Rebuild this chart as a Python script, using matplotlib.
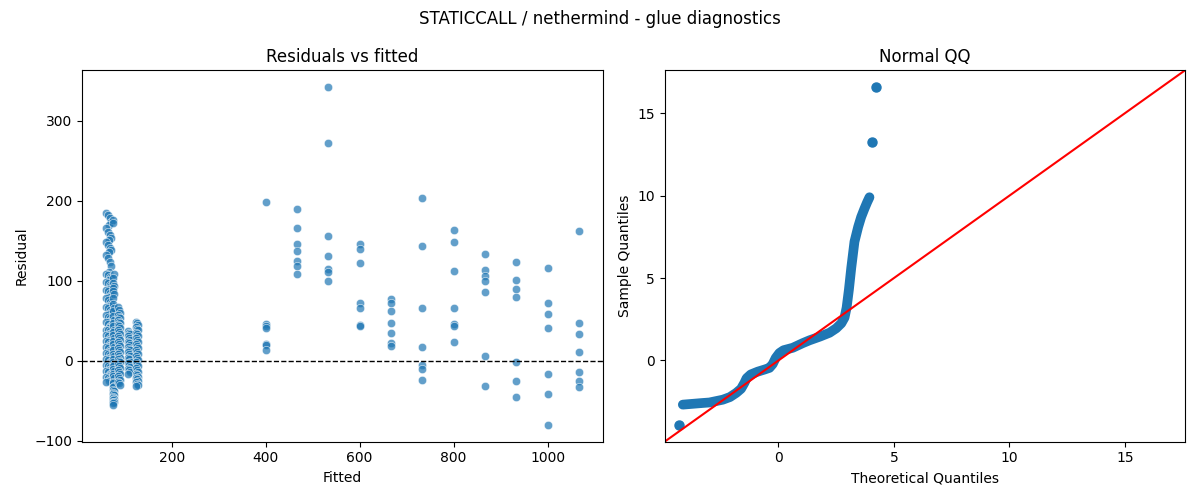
import matplotlib
matplotlib.use("Agg")
import matplotlib.pyplot as plt
import pandas as pd
import seaborn as sns

# dense low-fitted clusters (fitted, residuals)
cluster_fitted = [64, 75, 88, 109, 126]
cluster_resid = [
    [185, 182, 178, 174, 170, 166, 161, 157, 154, 151, 148, 145, 141, 138, 136,
     132, 128, 124, 118, 111, 109, 107, 105, 103, 101, 99, 97, 95, 93, 90, 88,
     87, 85, 82, 80, 78, 76, 74, 71, 69, 67, 66, 63, 61, 59, 57, 55, 53, 51, 49,
     48, 46, 44, 43, 41, 39, 38, 37, 35, 33, 32, 31, 29, 27, 26, 25, 23, 21, 20,
     18, 17, 16, 14, 12, 11, 10, 8, 7, 5, 4, 2, 1, -1, -2, -4, -5, -7, -8, -10,
     -11, -13, -14, -16, -17, -19, -20, -22, -23, -24, -25, -26],
    [176, 172, 108, 103, 97, 94, 91, 87, 84, 78, 71, 66, 62, 56, 51, 47, 43, 39,
     36, 32, 29, 25, 21, 17, 13, 9, 6, 2, -1, -4, -7, -10, -13, -16, -19, -22,
     -26, -28, -31, -33, -36, -38, -40, -42, -43, -45, -46, -48, -49, -51, -52,
     -53, -55],
    [67, 63, 60, 57, 55, 53, 51, 49, 47, 45, 43, 41, 39, 36, 34, 31, 29, 26, 24,
     21, 19, 16, 14, 11, 9, 6, 4, 2, 0, -2, -4, -7, -9, -11, -14, -16, -19, -21,
     -24, -26, -28, -30],
    [37, 35, 33, 31, 29, 26, 24, 22, 20, 17, 15, 13, 11, 8, 6, 4, 2, -1, -3, -5,
     -8, -10, -12, -14, -17],
    [49, 47, 45, 42, 40, 38, 35, 33, 31, 28, 26, 24, 21, 19, 16, 14, 11, 9, 6,
     4, 1, -1, -4, -6, -9, -11, -14, -16, -18, -20, -21, -23, -25, -27, -29, -30,
     -32],
]
# x offsets inside each cluster, in fitted units
cluster_jitter = [[-4, 0, 4, 7, 2], [-1, 1, 3], [-2, 0, 2], [-2, 0, 2], [-2, 0, 2]]

# sparse high-fitted columns
column_fitted = [400, 467, 533, 600, 667, 733, 800, 867, 933, 1000, 1067]
column_resid = [
    [198, 46, 43, 41, 21, 20, 14],
    [190, 166, 146, 137, 125, 118, 109],
    [342, 272, 156, 131, 115, 111, 100],
    [146, 140, 122, 72, 66, 45, 44],
    [77, 72, 62, 47, 35, 22, 19],
    [203, 144, 66, 17, -5, -10, -24],
    [164, 149, 112, 66, 46, 43, 23],
    [133, 114, 106, 100, 86, 6, -31],
    [123, 101, 90, 80, -2, -25, -45],
    [116, 72, 58, 41, -17, -42, -80],
    [162, 47, 33, 11, -14, -25, -33],
]

# Normal QQ curve (theoretical, sample)
qq_theo = [-4.14, -3.28, -2.99, -2.41, -2.1, -1.83, -1.62, -1.47, -1.38, -1.2,
           -0.90, -0.6, -0.39, -0.25, -0.12, 0.04, 0.22, 0.62, 1.05, 1.34, 1.8,
           2.21, 2.5, 2.72, 2.86, 2.95, 3.05, 3.15, 3.29, 3.45, 3.58, 3.72,
           3.84, 3.94]
qq_sample = [-2.68, -2.58, -2.55, -2.38, -2.22, -1.97, -1.72, -1.35, -1.08,
             -0.85, -0.68, -0.55, -0.45, -0.22, 0.15, 0.45, 0.62, 0.77, 1.05,
             1.22, 1.45, 1.68, 1.95, 2.25, 2.6, 3.2, 4.3, 5.6, 7.2, 8.1, 8.7,
             9.2, 9.6, 9.9]
qq_extra_theo = [-4.29, 4.03, 4.23]
qq_extra_sample = [-3.9, 13.27, 16.6]
qq_limits = [-4.93, 17.6]

rows = []
for fx, res, jit in zip(cluster_fitted, cluster_resid, cluster_jitter):
    for i, r in enumerate(res):
        rows.append({"fitted": fx + jit[i % len(jit)], "resid": r})
for fx, res in zip(column_fitted, column_resid):
    for r in res:
        rows.append({"fitted": fx, "resid": r})
df = pd.DataFrame(rows)

fig, (ax1, ax2) = plt.subplots(1, 2, figsize=(12, 5))

sns.scatterplot(data=df, x="fitted", y="resid", alpha=0.7, ax=ax1)
ax1.axhline(0, color="k", linestyle="--", linewidth=1)
ax1.set_title("Residuals vs fitted")
ax1.set_xlabel("Fitted")
ax1.set_ylabel("Residual")

ax2.plot(qq_theo, qq_sample, color="C0", lw=7, solid_capstyle="round",
         solid_joinstyle="round")
ax2.plot(qq_extra_theo, qq_extra_sample, "o", color="C0", ms=6.5)
ax2.plot(qq_limits, qq_limits, "r-")
ax2.set_xlim(qq_limits)
ax2.set_ylim(qq_limits)
ax2.set_xticks([0, 5, 10, 15])
ax2.set_yticks([0, 5, 10, 15])
ax2.set_title("Normal QQ")
ax2.set_xlabel("Theoretical Quantiles")
ax2.set_ylabel("Sample Quantiles")

fig.suptitle("STATICCALL / nethermind - glue diagnostics")
fig.tight_layout()
fig.savefig("out.png", dpi=100)
